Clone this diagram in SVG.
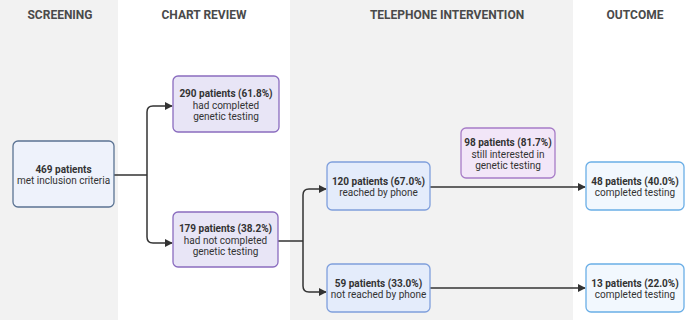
<svg xmlns="http://www.w3.org/2000/svg" width="685" height="320" viewBox="0 0 685 320">
<defs>
<marker id="ah" viewBox="0 0 10 10" refX="9" refY="5" markerWidth="8" markerHeight="8" markerUnits="userSpaceOnUse" orient="auto">
<path d="M0,0 L10,5 L0,10 z" fill="#333"/>
</marker>
<style>
.hdr{font-family:Roboto,"Liberation Sans",sans-serif;font-weight:700;font-size:12px;fill:#4a4a4a;text-anchor:middle}
.t{font-family:Roboto,"Liberation Sans",sans-serif;font-size:10px;fill:#333;text-anchor:middle}
.b{font-weight:700}
.gray{fill:#f2f2f2}
.n-start{fill:#eef2fb;stroke:#5b7393;stroke-width:1.3}
.n-chart{fill:#e8e5f6;stroke:#8a6cbf;stroke-width:1.3}
.n-phone{fill:#e4ecfb;stroke:#7f9fdc;stroke-width:1.3}
.n-int{fill:#f2e6f8;stroke:#a77cc7;stroke-width:1.3}
.n-out{fill:#f2f8fe;stroke:#6aaee6;stroke-width:1.3}
.c{fill:none;stroke:#333;stroke-width:1.5}
</style>
</defs>
<rect x="0" y="0" width="685" height="320" fill="#ffffff"/>
<rect class="gray" x="0" y="0" width="118" height="320"/>
<rect class="gray" x="290" y="0" width="283" height="320"/>
<g id="headers">
<text class="hdr" x="60" y="19">SCREENING</text>
<text class="hdr" x="204" y="19">CHART REVIEW</text>
<text class="hdr" x="447" y="19">TELEPHONE INTERVENTION</text>
<text class="hdr" x="635" y="19">OUTCOME</text>
</g>
<g id="connectors">
<path class="c" d="M114,175 H147 M147,175 V112 Q147,106 153,106 H172" marker-end="url(#ah)"/>
<path class="c" d="M147,175 V237 Q147,243 153,243 H172" marker-end="url(#ah)"/>
<path class="c" d="M278,241 H303 M303,241 V195 Q303,189 309,189 H326" marker-end="url(#ah)"/>
<path class="c" d="M303,241 V286 Q303,292 309,292 H326" marker-end="url(#ah)"/>
<path class="c" d="M430,187 H585" marker-end="url(#ah)"/>
<path class="c" d="M430,288 H585" marker-end="url(#ah)"/>
</g>
<g id="n469">
<rect class="n-start" x="13" y="141" width="101" height="66" rx="5"/>
<text class="t b" x="63.5" y="172.5">469 patients</text>
<text class="t" x="63.5" y="184">met inclusion criteria</text>
</g>
<g id="n290">
<rect class="n-chart" x="173" y="76" width="106" height="56" rx="5"/>
<text class="t b" x="226" y="97">290 patients (61.8%)</text>
<text class="t" x="226" y="108.5">had completed</text>
<text class="t" x="226" y="120">genetic testing</text>
</g>
<g id="n179">
<rect class="n-chart" x="173" y="212" width="105" height="55" rx="5"/>
<text class="t b" x="225.5" y="232">179 patients (38.2%)</text>
<text class="t" x="225.5" y="243.5">had not completed</text>
<text class="t" x="225.5" y="255">genetic testing</text>
</g>
<g id="n120">
<rect class="n-phone" x="327" y="162" width="103" height="48" rx="5"/>
<text class="t b" x="378.5" y="184.5">120 patients (67.0%)</text>
<text class="t" x="378.5" y="196">reached by phone</text>
</g>
<g id="n59">
<rect class="n-phone" x="327" y="264" width="103" height="48" rx="5"/>
<text class="t b" x="378.5" y="286.5">59 patients (33.0%)</text>
<text class="t" x="378.5" y="298">not reached by phone</text>
</g>
<g id="n98">
<rect class="n-int" x="461" y="128" width="94" height="50" rx="5"/>
<text class="t b" x="508" y="146">98 patients (81.7%)</text>
<text class="t" x="508" y="157.5">still interested in</text>
<text class="t" x="508" y="169">genetic testing</text>
</g>
<g id="n48">
<rect class="n-out" x="586" y="162" width="98" height="48" rx="5"/>
<text class="t b" x="635" y="184.5">48 patients (40.0%)</text>
<text class="t" x="635" y="196">completed testing</text>
</g>
<g id="n13">
<rect class="n-out" x="586" y="264" width="98" height="48" rx="5"/>
<text class="t b" x="635" y="286.5">13 patients (22.0%)</text>
<text class="t" x="635" y="298">completed testing</text>
</g>
</svg>
